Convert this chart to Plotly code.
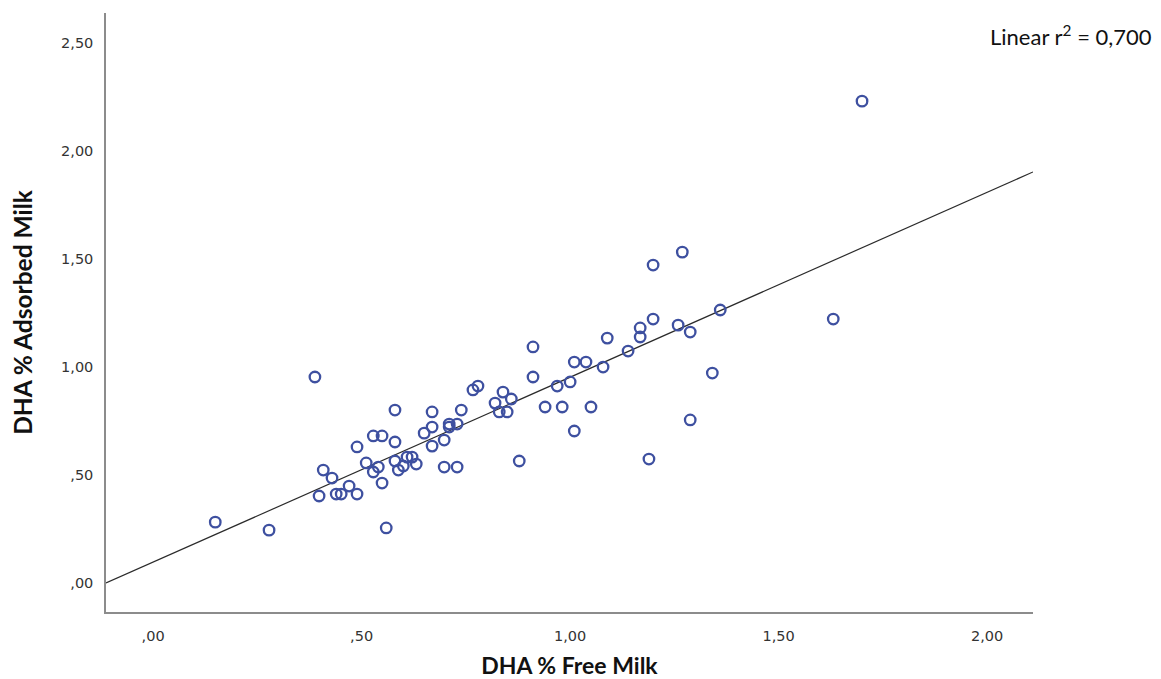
import plotly.graph_objects as go

free_milk = [0.149, 0.278, 0.388, 0.398, 0.408, 0.429, 0.439, 0.451, 0.470, 0.489,
             0.489, 0.511, 0.528, 0.549, 0.528, 0.540, 0.549, 0.559, 0.580, 0.580,
             0.580, 0.588, 0.600, 0.609, 0.621, 0.631, 0.650, 0.669, 0.669, 0.669,
             0.698, 0.698, 0.710, 0.710, 0.729, 0.729, 0.739, 0.767, 0.779, 0.820,
             0.830, 0.839, 0.849, 0.859, 0.878, 0.911, 0.911, 0.940, 0.969, 0.981,
             1.000, 1.010, 1.010, 1.038, 1.050, 1.079, 1.089, 1.139, 1.168, 1.168,
             1.189, 1.199, 1.199, 1.259, 1.269, 1.288, 1.288, 1.341, 1.360, 1.631,
             1.700]
adsorbed_milk = [0.282, 0.245, 0.954, 0.403, 0.523, 0.486, 0.412, 0.412, 0.449, 0.412,
                 0.630, 0.556, 0.681, 0.681, 0.514, 0.537, 0.463, 0.255, 0.801, 0.653,
                 0.565, 0.523, 0.542, 0.583, 0.583, 0.551, 0.694, 0.792, 0.722, 0.634,
                 0.662, 0.537, 0.736, 0.722, 0.736, 0.537, 0.801, 0.894, 0.912, 0.833,
                 0.792, 0.884, 0.792, 0.852, 0.565, 1.093, 0.954, 0.815, 0.912, 0.815,
                 0.931, 1.023, 0.704, 1.023, 0.815, 1.000, 1.134, 1.074, 1.181, 1.139,
                 0.574, 1.472, 1.222, 1.194, 1.532, 1.162, 0.755, 0.972, 1.264, 1.222,
                 2.231]

fit_intercept = 0.097
fit_slope = 0.856

x_tick_vals = [0.0, 0.5, 1.0, 1.5, 2.0]
x_tick_text = [",00", ",50", "1,00", "1,50", "2,00"]
y_tick_vals = [0.0, 0.5, 1.0, 1.5, 2.0, 2.5]
y_tick_text = [",00", ",50", "1,00", "1,50", "2,00", "2,50"]

x_range = [-0.113, 2.110]
y_range = [-0.134, 2.639]

fig = go.Figure()

line_x = [x_range[0], x_range[1]]
line_y = [fit_intercept + fit_slope * v for v in line_x]
fig.add_trace(go.Scatter(
    x=line_x, y=line_y, mode="lines",
    line=dict(color="#2b2b2b", width=1.2),
    hoverinfo="skip", showlegend=False,
))

fig.add_trace(go.Scatter(
    x=free_milk, y=adsorbed_milk, mode="markers",
    marker=dict(symbol="circle-open", size=10.5, color="#3e50a0",
                line=dict(width=2.3, color="#3e50a0")),
    showlegend=False,
))

fig.add_annotation(
    text="Linear r<sup>2</sup> = 0,700",
    xref="paper", yref="paper", x=1.131, y=0.962,
    xanchor="right", yanchor="middle", showarrow=False,
    font=dict(family="Lato, Open Sans, sans-serif", size=22, color="#111111"),
)

axis_font = dict(family="DejaVu Sans, sans-serif", size=14.5, color="#333333")
x_title_font = dict(family="Lato, Open Sans, sans-serif", size=23, color="#111111")
y_title_font = dict(family="Lato, Open Sans, sans-serif", size=24.5, color="#111111")

fig.update_layout(
    width=1153, height=671,
    margin=dict(l=98, r=128, t=5, b=67),
    paper_bgcolor="white", plot_bgcolor="white",
    xaxis=dict(
        range=x_range, tickvals=x_tick_vals, ticktext=x_tick_text,
        showgrid=False, zeroline=False, showline=True, automargin=False,
        linecolor="#8c8c8c", linewidth=1.5, ticks="", ticklabelstandoff=10,
        tickfont=axis_font,
        title=dict(text="<b>DHA % Free Milk</b>", font=x_title_font, standoff=16),
    ),
    yaxis=dict(
        range=y_range, tickvals=y_tick_vals, ticktext=y_tick_text,
        showgrid=False, zeroline=False, showline=True, automargin=False,
        linecolor="#8c8c8c", linewidth=1.5, ticks="", ticklabelstandoff=8,
        tickfont=axis_font,
        title=dict(text="<b>DHA % Adsorbed Milk</b>", font=y_title_font, standoff=24),
    ),
)

fig.write_html("out.html")
